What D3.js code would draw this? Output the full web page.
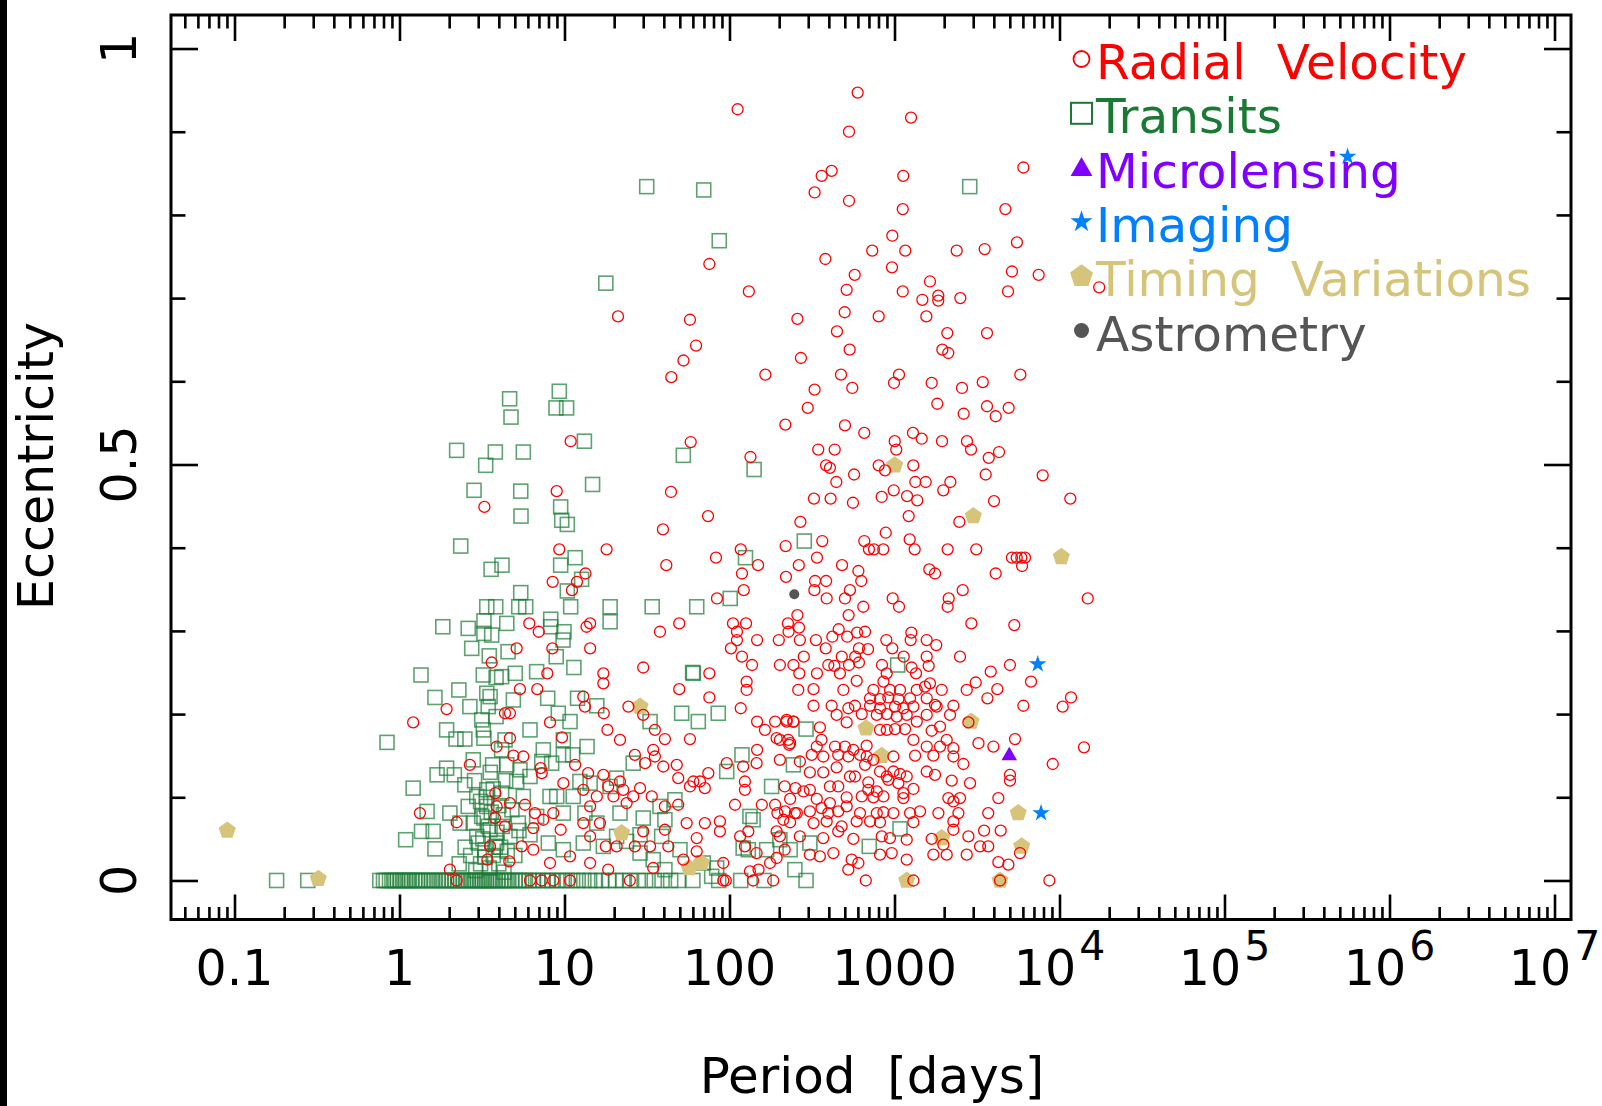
<!DOCTYPE html>
<html>
<head>
<meta charset="utf-8">
<script src="https://cdn.jsdelivr.net/npm/d3@7"></script>
<style>
  body { margin: 0; background: #fff; }
  text { font-family: "DejaVu Sans", sans-serif; }
</style>
</head>
<body>
<svg id="chart" width="1602" height="1106"></svg>
<script>
// data: [period (days), eccentricity]
const radialVelocity = [
  [112,0.927],[598,0.947],[1259,0.917],[530,0.9],[416,0.853],[362,0.847],[1130,0.847],[6040,0.857],[328,0.827],[530,0.817],
  [1122,0.807],[4700,0.807],[970,0.775],[733,0.757],[1162,0.757],[2382,0.757],[3520,0.759],[5520,0.767],[75.5,0.741],[381,0.747],
  [966,0.737],[574,0.728],[5150,0.732],[7480,0.728],[131,0.708],[513,0.71],[1122,0.708],[1641,0.72],[1475,0.698],[1842,0.703],
  [1842,0.697],[2506,0.7],[4875,0.708],[17400,0.713],[57.6,0.674],[62.7,0.643],[258,0.675],[499,0.683],[802,0.678],[1560,0.678],
  [448,0.66],[2089,0.658],[3636,0.658],[535,0.638],[1950,0.638],[2118,0.634],[271,0.628],[165,0.608],[474,0.608],[1065,0.608],
  [993,0.598],[1680,0.598],[3427,0.599],[5790,0.608],[2565,0.592],[555,0.592],[328,0.59],[21.1,0.678],[52.6,0.625],[44.4,0.605],
  [298,0.568],[1817,0.573],[2625,0.561],[3636,0.57],[4920,0.568],[4105,0.558],[218,0.548],[501,0.547],[656,0.538],[1294,0.538],
  [1462,0.531],[1941,0.528],[1003,0.528],[1025,0.518],[2750,0.528],[2909,0.518],[4300,0.515],[3724,0.508],[345,0.518],[434,0.518],
  [58.2,0.527],[134,0.509],[385,0.499],[406,0.496],[802,0.499],[1300,0.499],[569,0.488],[876,0.493],[444,0.479],[1337,0.479],
  [1545,0.479],[2180,0.479],[1976,0.469],[3570,0.488],[7910,0.487],[4010,0.456],[11630,0.459],[44.2,0.467],[325,0.459],[410,0.459],
  [560,0.454],[836,0.461],[989,0.469],[1191,0.462],[1374,0.457],[1219,0.438],[2472,0.431],[74.1,0.438],[39.5,0.422],[269,0.431],
  [885,0.418],[1236,0.41],[1325,0.398],[656,0.408],[700,0.398],[751,0.398],[855,0.398],[365,0.408],[219,0.402],[2100,0.398],
  [3130,0.398],[5150,0.388],[5505,0.388],[5870,0.388],[6180,0.388],[5930,0.378],[4105,0.369],[1625,0.374],[1760,0.369],[2590,0.349],
  [2130,0.339],[2100,0.329],[14830,0.339],[41.4,0.379],[82.8,0.388],[117,0.398],[149,0.379],[119,0.369],[263,0.379],[339,0.388],
  [481,0.379],[604,0.372],[220,0.365],[330,0.36],[385,0.36],[629,0.36],[327,0.349],[388,0.339],[501,0.339],[537,0.349],
  [647,0.329],[975,0.339],[1065,0.329],[527,0.319],[122,0.349],[84,0.339],[49.6,0.309],[37.9,0.299],[30,0.256],[17.2,0.249],
  [75.5,0.249],[105,0.309],[126,0.309],[111,0.299],[111,0.289],[147,0.289],[102,0.279],[119,0.269],[137,0.259],[258,0.319],
  [226,0.309],[228,0.299],[264,0.304],[199,0.289],[267,0.289],[334,0.289],[383,0.279],[420,0.293],[459,0.302],[517,0.293],
  [593,0.298],[609,0.279],[663,0.299],[691,0.278],[479,0.269],[578,0.269],[432,0.258],[530,0.259],[609,0.262],[282,0.269],
  [244,0.259],[202,0.259],[265,0.249],[339,0.249],[397,0.259],[467,0.249],[892,0.289],[970,0.279],[1265,0.298],[1253,0.289],
  [1567,0.289],[1791,0.283],[1567,0.269],[1611,0.258],[840,0.259],[1137,0.269],[1270,0.256],[1350,0.249],[897,0.249],[2495,0.269],
  [2923,0.309],[5320,0.307],[3830,0.251],[5010,0.259],
  [10.9,0.528],[8.97,0.468],[3.27,0.449],[9.3,0.398],[18,0.398],[8.48,0.359],[11.9,0.359],[13.4,0.369],[11.1,0.349],[6.12,0.309],
  [6.98,0.299],[13.6,0.305],[14.3,0.309],[5.13,0.279],[8.44,0.279],[14.3,0.279],[3.62,0.262],[7.87,0.249],
  [1.21,0.19],[1.93,0.206],[1.33,0.081],[2.22,0.07],[2.67,0.139],[4.36,0.201],[4.67,0.201],[4.67,0.171],[5.37,0.23],[5.63,0.149],
  [4.9,0.15],[3.88,0.161],[3.81,0.105],[3.88,0.089],[4.67,0.093],[5.76,0.091],[6.84,0.23],[8.17,0.19],[9.66,0.172],[7.17,0.135],
  [7.28,0.129],[6.62,0.081],[8.55,0.081],[6.47,0.063],[7.44,0.073],[9.84,0.117],[9.48,0.061],[6.47,0.037],[10.8,0.029],[13,0.221],
  [13.3,0.209],[17.2,0.237],[17.3,0.201],[18.2,0.181],[21.7,0.169],[24.4,0.209],[30,0.199],[35.3,0.181],[40.6,0.17],[57.6,0.17],
  [75.5,0.22],[117,0.207],[127,0.239],[127,0.229],[49.6,0.23],[147,0.191],[164,0.181],[189,0.191],[222,0.191],[244,0.191],
  [193,0.171],[227,0.169],[230,0.163],[147,0.157],[121,0.137],[96.2,0.141],[74.4,0.129],[66.2,0.119],[70.9,0.111],[57.6,0.113],
  [124,0.119],[124,0.109],[146,0.141],[108,0.091],[87.5,0.071],[87.5,0.059],[130,0.059],[116,0.053],[157,0.091],[189,0.091],
  [195,0.081],[212,0.073],[193,0.059],[249,0.081],[251,0.111],[216,0.113],[176,0.021],[193,0.027],[91.7,0],[95,0],
  [139,0],[184,0],[150,0.013],[34.5,0.015],[52.5,0.025],[63.3,0.035],[63.3,0.051],[55,0.069],[48.9,0.091],[40.6,0.061],
  [70.9,0.069],[30,0.059],[26.7,0.041],[33,0.041],[42.6,0.041],[20.7,0.041],[17.8,0.041],[14.3,0.021],[18.4,0.013],[24.9,0],
  [10.8,0],[8.55,0],[7.28,0],[6.18,0],[2.22,0],[2.02,0.013],[3.41,0.025],[3.54,0.041],[4.63,0.023],[4.36,0.065],
  [3.79,0.075],[5.5,0.041],[8.17,0.021],[14.3,0.053],[16.4,0.069],[14.3,0.089],[13,0.109],[19.8,0.101],[22.7,0.109],[23.8,0.093],
  [26.1,0.101],[28.7,0.111],[33.8,0.101],[40.6,0.089],[48.9,0.123],[60.4,0.119],[47.9,0.139],[35.3,0.149],[26.7,0.151],[30.8,0.141],
  [34.5,0.157],[39.7,0.137],[17.2,0.127],[18.4,0.113],[21.7,0.119],[15.7,0.101],[13.9,0.129],[11.6,0.139],[13,0.069],[91.7,0.021],
  [124,0.041],[133,0.011],[216,0.037],[146,0.033],
  [590,0.24],[857,0.239],[1641,0.237],[261,0.229],[323,0.23],[490,0.229],[745,0.229],[939,0.229],[1080,0.229],[1364,0.229],
  [1532,0.233],[1933,0.229],[2740,0.229],[3106,0.238],[4200,0.23],[3656,0.219],[6720,0.239],[711,0.219],[817,0.218],[918,0.22],
  [1056,0.218],[1242,0.219],[1568,0.219],[1760,0.211],[323,0.21],[416,0.21],[525,0.207],[576,0.21],[711,0.21],[817,0.207],
  [1008,0.209],[1132,0.207],[1302,0.209],[1802,0.209],[2275,0.21],[6040,0.21],[10450,0.209],[11740,0.22],[222,0.193],[244,0.191],
  [353,0.184],[446,0.199],[513,0.19],[633,0.2],[781,0.199],[898,0.2],[1032,0.197],[1186,0.199],[1364,0.191],[1568,0.199],
  [2170,0.199],[2805,0.19],[1888,0.185],[1680,0.18],[2072,0.169],[202,0.169],[233,0.165],[338,0.161],[361,0.169],[436,0.161],
  [501,0.161],[563,0.157],[678,0.162],[817,0.181],[898,0.181],[1008,0.182],[1159,0.182],[1302,0.169],[1568,0.161],[1888,0.161],
  [2275,0.159],[3228,0.165],[3975,0.161],[5375,0.17],[14080,0.16],[202,0.145],[267,0.143],[315,0.151],[370,0.149],[456,0.151],
  [525,0.149],[618,0.151],[678,0.149],[745,0.145],[985,0.149],[1333,0.15],[1720,0.15],[2275,0.149],[2615,0.14],[9100,0.14],
  [307,0.13],[370,0.13],[446,0.136],[663,0.139],[817,0.131],[898,0.125],[985,0.131],[1080,0.128],[1186,0.125],[1568,0.131],
  [1760,0.127],[2222,0.12],[2870,0.117],[5012,0.127],[5012,0.12],[281,0.107],[307,0.109],[406,0.113],[456,0.113],[537,0.125],
  [576,0.125],[694,0.118],[694,0.109],[781,0.107],[918,0.121],[1056,0.117],[1132,0.105],[1302,0.11],[233,0.098],[338,0.098],
  [406,0.093],[513,0.1],[633,0.101],[745,0.1],[857,0.101],[1132,0.099],[2120,0.099],[2275,0.095],[2495,0.099],[4260,0.099],
  [217,0.083],[256,0.081],[307,0.083],[361,0.087],[397,0.081],[456,0.083],[513,0.089],[618,0.081],[781,0.081],[857,0.082],
  [985,0.081],[1242,0.081],[1428,0.083],[1845,0.081],[2439,0.081],[3700,0.081],[233,0.07],[323,0.069],[388,0.071],[478,0.065],
  [590,0.071],[711,0.071],[817,0.07],[1302,0.07],[2275,0.071],[2805,0.053],[3490,0.06],[4400,0.06],[202,0.053],[267,0.053],
  [370,0.051],[456,0.059],[563,0.05],[837,0.053],[939,0.051],[1186,0.049],[1680,0.05],[1978,0.043],[2275,0.061],[3300,0.041],
  [3700,0.041],[5764,0.033],[307,0.031],[353,0.029],[426,0.033],[550,0.025],[604,0.021],[817,0.031],[962,0.033],[1186,0.025],
  [1720,0.031],[2072,0.031],[2740,0.031],[4260,0.022],[4900,0.019],[525,0.013],[670,0],[1302,0],[4360,0],[8680,0]
];

const transits = [
  [69.8,0.83],[86.7,0.769],[2857,0.834],[31.5,0.834],[17.8,0.718],
  [52.5,0.511],[141,0.494],[284,0.408],[125,0.388],[101,0.339],[34,0.329],[63.3,0.329],[59.8,0.25],[1045,0.259],
  [9.3,0.588],[4.65,0.579],[8.88,0.568],[10.3,0.568],[4.74,0.557],[13.2,0.528],[2.22,0.517],[3.81,0.515],[5.63,0.515],[3.33,0.499],
  [14.8,0.476],[2.83,0.469],[5.43,0.468],[9.48,0.449],[9.62,0.433],[10.4,0.428],[5.45,0.438],[2.35,0.402],[11.6,0.388],[9.48,0.379],
  [4.18,0.379],[3.59,0.374],[12.7,0.362],[10.4,0.348],[5.43,0.346],[3.38,0.329],[3.83,0.329],[5.28,0.329],[5.82,0.329],[10.9,0.329],
  [18.9,0.329],[1.83,0.305],[2.61,0.303],[3.25,0.312],[4.47,0.309],[8.25,0.314],[8.25,0.305],[9.93,0.299],[3.25,0.297],[3.62,0.295],
  [2.74,0.279],[4.55,0.275],[3.5,0.27],[9.8,0.289],[8.91,0.269],[18.9,0.311],[1.35,0.247],[3.22,0.247],[5.03,0.249],[6.78,0.251],
  [11.4,0.256],
  [0.84,0.166],[1.21,0.111],[1.64,0.22],[2.29,0.229],[1.93,0.181],[2.2,0.17],[2.49,0.17],[3.38,0.225],[3.54,0.221],[3.85,0.244],
  [7.91,0.219],[4.9,0.217],[3.85,0.197],[3.15,0.193],[3.22,0.181],[3.25,0.171],[4.36,0.169],[6.18,0.181],[9.17,0.201],[10.8,0.191],
  [12,0.219],[15.7,0.21],[13.7,0.161],[11.2,0.151],[9.84,0.151],[8.36,0.141],[7.28,0.143],[5.37,0.133],[4.47,0.139],[3.67,0.139],
  [2.8,0.145],[1.93,0.135],[2.15,0.127],[1.69,0.127],[2.49,0.115],[1.47,0.083],[1.09,0.049],[1.36,0.059],[1.6,0.059],[1.64,0.038],
  [2.02,0.081],[2.33,0.069],[2.61,0.089],[2.8,0.069],[2.94,0.053],[3.15,0.077],[3.38,0.089],[3.54,0.061],[3.88,0.045],[3.3,0.037],
  [4.26,0.079],[4.16,0.105],[3.38,0.109],[2.94,0.101],[5.13,0.119],[5.63,0.101],[6.18,0.125],[8.17,0.101],[8.97,0.101],[9.84,0.081],
  [6.78,0.077],[5.25,0.069],[4.67,0.053],[6.18,0.055],[7.98,0.045],[9.84,0.037],[13,0.045],[17.2,0.041],[20.7,0.053],[15.7,0.069],
  [21.7,0.081],[23.8,0.047],[28.7,0.033],[34.5,0.025],[40.6,0.013],[50.1,0.037],[69.4,0.021],[83.6,0.015],[121,0.039],[133,0.077],
  [119,0.151],[96.2,0.131],[85.5,0.201],[64.7,0.191],[51.3,0.201],[60.4,0.249],[244,0.139],[180,0.113],[249,0.013],[233,0.037],
  [168,0.037],[130,0.037],[139,0.073],[78,0.005],[40.6,0.073],[38.8,0.053],[30,0.075],[28.7,0.055],[46.7,0.097],[37.9,0.089],
  [13.3,0.081],[11.3,0.101],[12.4,0.119],[14.3,0.117],[18.9,0.113],[20.7,0.123],[26.1,0.141],[33,0.191],[9.84,0.169],[7.44,0.157],
  [4.16,0.157],[2.67,0.209],[3.45,0.209],[4.16,0.245],[202,0.049],[291,0.182],[1080,0.062],[703,0.041],[307,0.045],[291,0],
  [2.9,0.012],[3.1,0.02],[3.3,0.028],[3.5,0.015],[3.7,0.03],[4.0,0.02],[4.3,0.01],[3.2,0.05],[3.45,0.065],[3.6,0.082],
  [3.9,0.058],[4.1,0.04],[4.5,0.035],[2.7,0.03],[3.0,0.045],[3.35,0.1],[3.7,0.11],[4.0,0.09],[3.1,0.095],[2.85,0.12],
  [4.4,0.12],[3.55,0.13],[5.0,0.03],[5.3,0.06],[4.8,0.085],[2.5,0.04],[2.3,0.02],[4.2,0.065],[3.8,0.04],[3.25,0.075],
  [0.18,0],[0.278,0],[0.76,0],[0.8,0],[0.83,0],[0.87,0],[0.9,0],[0.94,0],[0.97,0],[1.01,0],
  [1.04,0],[1.08,0],[1.12,0],[1.15,0],[1.19,0],[1.24,0],[1.28,0],[1.33,0],[1.38,0],[1.44,0],
  [1.5,0],[1.57,0],[1.63,0],[1.71,0],[1.79,0],[1.86,0],[1.93,0],[2.01,0],[2.09,0],[2.16,0],
  [2.25,0],[2.34,0],[2.43,0],[2.52,0],[2.61,0],[2.7,0],[2.79,0],[2.88,0],[2.98,0],[3.08,0],
  [3.17,0],[3.27,0],[3.36,0],[3.47,0],[3.58,0],[3.69,0],[3.82,0],[3.95,0],[4.1,0],[4.26,0],
  [4.42,0],[4.6,0],[4.8,0],[5.02,0],[5.25,0],[5.5,0],[5.8,0],[6.1,0],[6.45,0],[6.9,0],
  [7.4,0],[7.9,0],[8.4,0],[9.0,0],[9.7,0],[10.4,0],[11.2,0],[12.1,0],[13.1,0],[14.2,0],
  [15.4,0],[16.8,0],[18.5,0],[20.4,0],[22.6,0],[25,0],[28,0],[31,0],[35,0],[39,0],
  [44,0],[49,0],[60,0],[86,0],[117,0],[162,0]
];

const microlensing = [[4960,0.151]];
const imaging = [[7380,0.26],[7730,0.081],[557000,0.87]];
const timingVariations = [
  [0.0904,0.06],[0.322,0.002],[28.7,0.209],[22.2,0.057],[67.6,0.021],[57,0.015],[1003,0.499],[3005,0.438],[10260,0.389],
  [672,0.183],[836,0.15],[2909,0.191],[5623,0.081],[5900,0.041],[1932,0.051],[1186,0],[4360,0]
];
const astrometry = [[247,0.344]];

const legendLabels = ["Radial  Velocity", "Transits", "Microlensing", "Imaging", "Timing  Variations", "Astrometry"];
const periodTicks = [0.1, 1, 10, 100, 1000, 1e4, 1e5, 1e6, 1e7];
const periodTickLabels = ["0.1", "1", "10", "100", "1000", "10|4", "10|5", "10|6", "10|7"];
const eccTicks = [0, 0.5, 1];
const eccMinorTicks = [0.1, 0.2, 0.3, 0.4, 0.6, 0.7, 0.8, 0.9];

// look
const colors = ["#ff0000", "#1a7a34", "#8000ff", "#0080ff", "#d5c47a", "#555555"];
const frameLeft = 171, frameRight = 1571, frameTop = 15, frameBottom = 919.5;

const svg = d3.select("#chart");
svg.append("rect").attr("width", 1602).attr("height", 1106).attr("fill", "#fff");
svg.append("rect").attr("width", 7).attr("height", 1106).attr("fill", "#000");

const x = d3.scaleLog()
  .domain([Math.pow(10, -1.3848), Math.pow(10, 7.1)])
  .range([frameLeft, frameRight]);
const y = d3.scaleLinear()
  .domain([-0.0469, 1.0403])
  .range([frameBottom, frameTop]);

// minor ticks for the log axis
const periodMinor = [];
for (let k = -2; k <= 6; k++) {
  for (let m = 2; m <= 9; m++) {
    const v = m * Math.pow(10, k);
    if (v > x.domain()[0] && v < x.domain()[1]) periodMinor.push(v);
  }
}

function tickAxis(axis, tr) {
  svg.append("g")
    .attr("transform", tr)
    .call(axis)
    .call(g => {
      g.select(".domain").remove();
      g.selectAll("text").remove();
      g.selectAll("line").attr("stroke", "#000").attr("stroke-width", 2.6);
    });
}

tickAxis(d3.axisBottom(x).tickValues(periodTicks).tickSize(-25), `translate(0,${frameBottom})`);
tickAxis(d3.axisBottom(x).tickValues(periodMinor).tickSize(-12.5), `translate(0,${frameBottom})`);
tickAxis(d3.axisTop(x).tickValues(periodTicks).tickSize(-26), `translate(0,${frameTop})`);
tickAxis(d3.axisTop(x).tickValues(periodMinor).tickSize(-13.5), `translate(0,${frameTop})`);
tickAxis(d3.axisLeft(y).tickValues(eccTicks).tickSize(-27), `translate(${frameLeft},0)`);
tickAxis(d3.axisLeft(y).tickValues(eccMinorTicks).tickSize(-14.5), `translate(${frameLeft},0)`);
tickAxis(d3.axisRight(y).tickValues(eccTicks).tickSize(-27), `translate(${frameRight},0)`);
tickAxis(d3.axisRight(y).tickValues(eccMinorTicks).tickSize(-14.5), `translate(${frameRight},0)`);

svg.append("rect")
  .attr("x", frameLeft).attr("y", frameTop)
  .attr("width", frameRight - frameLeft).attr("height", frameBottom - frameTop)
  .attr("fill", "none").attr("stroke", "#000").attr("stroke-width", 3);

// x tick labels (with superscript powers)
const xLab = svg.append("g").attr("font-size", 49).attr("fill", "#000");
periodTicks.forEach((v, i) => {
  const parts = periodTickLabels[i].split("|");
  const t = xLab.append("text")
    .attr("x", x(v)).attr("y", 985)
    .attr("text-anchor", "middle");
  t.append("tspan").text(parts[0]);
  if (parts[1]) {
    t.append("tspan").attr("font-size", 41).attr("dx", 3).attr("dy", -25).text(parts[1]);
  }
});

// y tick labels (rotated)
eccTicks.forEach(v => {
  svg.append("text")
    .attr("transform", `translate(136,${y(v)}) rotate(-90)`)
    .attr("text-anchor", "middle")
    .attr("font-size", 49)
    .text(v);
});

svg.append("text")
  .attr("transform", "translate(53,466) rotate(-90)")
  .attr("text-anchor", "middle")
  .attr("font-size", 49)
  .text("Eccentricity");

svg.append("text")
  .attr("x", 872).attr("y", 1093)
  .attr("text-anchor", "middle")
  .attr("font-size", 50)
  .style("white-space", "pre")
  .text("Period  [days]");

// marker shapes
const pentagon = r => d3.line()(d3.range(5).map(i => {
  const a = -Math.PI / 2 + i * 2 * Math.PI / 5;
  return [r * Math.cos(a), r * Math.sin(a)];
})) + "Z";
const starPath = s => d3.symbol(d3.symbolStar, s)();
const triPath = s => d3.symbol(d3.symbolTriangle, s)();

const plot = svg.append("g");

plot.selectAll(".tr").data(transits).join("rect")
  .attr("x", d => x(d[0]) - 7).attr("y", d => y(d[1]) - 7)
  .attr("width", 14).attr("height", 14)
  .attr("fill", "none").attr("stroke", colors[1])
  .attr("stroke-opacity", 0.7).attr("stroke-width", 1.6);

plot.selectAll(".ttv").data(timingVariations).join("path")
  .attr("transform", d => `translate(${x(d[0])},${y(d[1])})`)
  .attr("d", pentagon(9)).attr("fill", colors[4]);

plot.selectAll(".rv").data(radialVelocity).join("circle")
  .attr("cx", d => x(d[0])).attr("cy", d => y(d[1])).attr("r", 5.5)
  .attr("fill", "none").attr("stroke", colors[0]).attr("stroke-width", 1.3);

plot.selectAll(".img").data(imaging).join("path")
  .attr("transform", d => `translate(${x(d[0])},${y(d[1])})`)
  .attr("d", starPath(95)).attr("fill", colors[3]);

plot.selectAll(".ml").data(microlensing).join("path")
  .attr("transform", d => `translate(${x(d[0])},${y(d[1]) + 1})`)
  .attr("d", triPath(105)).attr("fill", colors[2]);

plot.selectAll(".ast").data(astrometry).join("circle")
  .attr("cx", d => x(d[0])).attr("cy", d => y(d[1])).attr("r", 5)
  .attr("fill", colors[5]);

// legend
const legend = svg.append("g");
const markers = [
  g => g.append("circle").attr("r", 8).attr("fill", "none").attr("stroke", colors[0]).attr("stroke-width", 1.8),
  g => g.append("rect").attr("x", -10.5).attr("y", -10.5).attr("width", 21).attr("height", 21)
        .attr("fill", "none").attr("stroke", colors[1]).attr("stroke-width", 2),
  g => g.append("path").attr("d", triPath(205)).attr("transform", "translate(0,2)").attr("fill", colors[2]),
  g => g.append("path").attr("d", starPath(150)).attr("fill", colors[3]),
  g => g.append("path").attr("d", pentagon(12)).attr("fill", colors[4]),
  g => g.append("circle").attr("r", 7.5).attr("fill", colors[5])
];
legendLabels.forEach((name, i) => {
  const base = 79 + i * 54.3;
  const g = legend.append("g").attr("transform", `translate(1081.5,${base - 20})`);
  markers[i](g);
  legend.append("text")
    .attr("x", 1096).attr("y", base)
    .attr("font-size", 48.5)
    .attr("fill", colors[i])
    .style("white-space", "pre")
    .text(name);
});
</script>
</body>
</html>
